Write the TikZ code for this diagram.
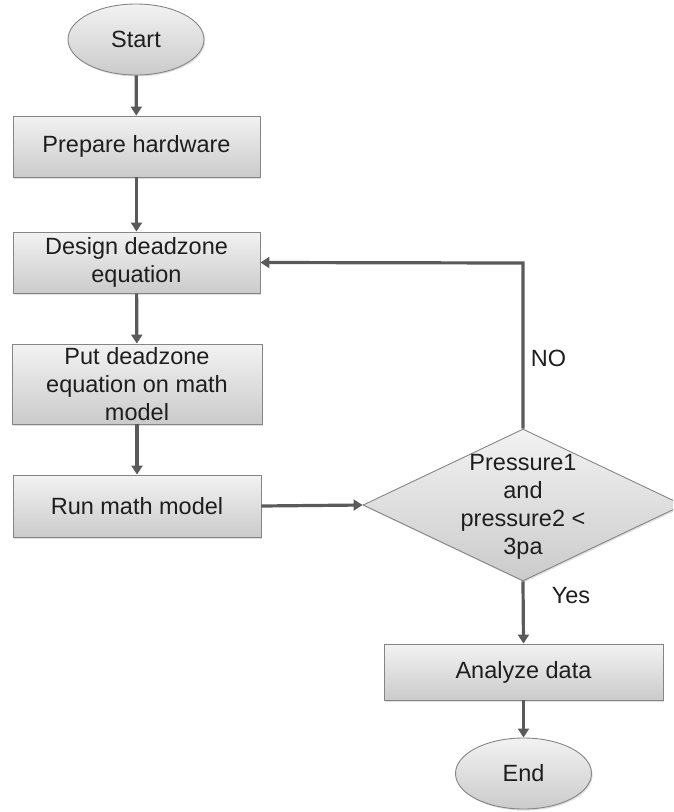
\documentclass[tikz,border=0pt]{standalone}
\usepackage{fontspec}
\setmainfont{Liberation Sans}
\usetikzlibrary{shapes.geometric,arrows.meta,shadows}

\definecolor{boxtop}{HTML}{F2F2F2}
\definecolor{boxbot}{HTML}{CBCBCB}
\definecolor{boxline}{HTML}{858585}
\definecolor{flow}{HTML}{5A5A5A}
\definecolor{ink}{HTML}{1E1E1E}

\tikzset{
  x=1pt, y=-1pt,
  base/.style={draw=boxline, line width=0.9pt, top color=boxtop, bottom color=boxbot,
    text=ink, font=\fontsize{23.5}{28}\selectfont, align=center, inner sep=0pt,
    drop shadow={opacity=0.25, shadow xshift=1.2pt, shadow yshift=-1.5pt}},
  stepbox/.style={base, rectangle},
  terminal/.style={base, ellipse, minimum width=136pt, minimum height=71pt},
  decision/.style={base, diamond, minimum width=320pt, minimum height=152pt},
  flowline/.style={draw=flow, line width=3.2pt, -{Triangle[length=9pt,width=11pt]}},
  lbl/.style={text=ink, font=\fontsize{23.5}{28}\selectfont, inner sep=0pt},
}

\begin{document}
\begin{tikzpicture}
\useasboundingbox (0,0) rectangle (673,812);
\clip (0,0) rectangle (673,812);

% process chain on the left
\node[terminal] (start) at (136,39.5) {Start};
\node[stepbox, minimum width=247pt, minimum height=61pt] (prep) at (136.5,146.5) {Prepare hardware};
\node[stepbox, minimum width=247pt, minimum height=61pt] (design) at (136.5,262.5) {Design deadzone\\equation};
\node[stepbox, minimum width=250pt, minimum height=80pt] (put) at (137,384) {Put deadzone\\equation on math\\model};
\node[stepbox, minimum width=248pt, minimum height=62pt] (run) at (137,506) {Run math model};

% decision and the right-hand branch
\node[decision] (check) at (523,505) {};
\node[lbl, align=center] (checktext) at (523,507) {Pressure1\\and\\pressure2 <\\3pa};
\node[stepbox, minimum width=279pt, minimum height=56pt] (analyze) at (523.5,672) {Analyze data};
\node[terminal] (end) at (523.5,773.5) {End};

% loop-back corner
\coordinate (corner) at (523,263);

% connectors
\draw[flowline] (start) -- (prep);
\draw[flowline] (prep) -- (design);
\draw[flowline] (design) -- (put);
\draw[flowline] (put) -- (run);
\draw[flowline] (run.east) -- (check.west);
\draw[flowline] (check.south) -- (analyze.north);
\draw[flowline] (analyze) -- (end);
\draw[flowline] (check.north) -- (corner) -- (design.east);

% branch labels
\node[lbl] (nolbl) at (548.5,358) {NO};
\node[lbl] (yeslbl) at (571,596) {Yes};
\end{tikzpicture}
\end{document}
